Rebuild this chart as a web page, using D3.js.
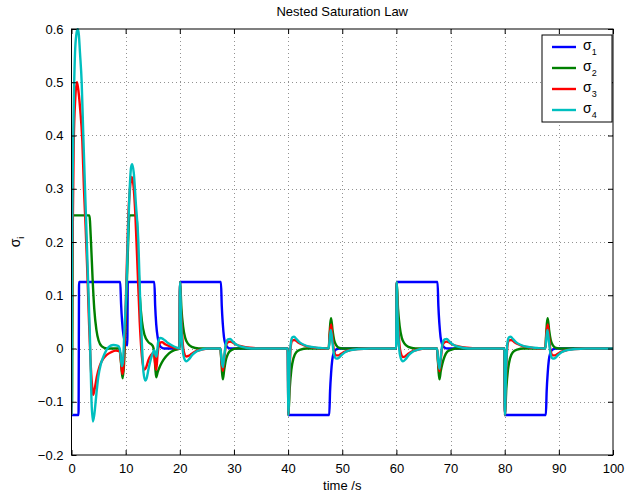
<!DOCTYPE html>
<html>
<head>
<meta charset="utf-8">
<script src="https://cdn.jsdelivr.net/npm/d3@7"></script>
<style>
  html, body { margin: 0; padding: 0; background: #fff; }
  svg { display: block; font-family: "Liberation Sans", Arial, sans-serif; }
</style>
</head>
<body>
<svg id="chart" width="644" height="500"></svg>
<script>
// ---- data (time in s, value) ----
const xTicks = [0, 10, 20, 30, 40, 50, 60, 70, 80, 90, 100];
const yTicks = [-0.2, -0.1, 0, 0.1, 0.2, 0.3, 0.4, 0.5, 0.6];
const seriesNames = ["1", "2", "3", "4"];
const seriesColors = ["#0000ff", "#008000", "#ff0000", "#00bfbf"];

const sigma1 = [
  [0,-0.125],[1.3,-0.125],[1.4,0.125],[9.0,0.125],[9.15,0.085],[9.35,0.05],[9.6,0.025],[9.9,0.012],[10.3,0.006],[10.4,0.125],
  [15.3,0.125],[15.45,0.08],[15.65,0.045],[15.9,0.022],[16.2,0.008],[16.6,0.002],[17.3,0],[19.95,0],[20.05,0.125],
  [27.6,0.125],[27.75,0.08],[27.95,0.045],[28.15,0.022],[28.45,0.008],[28.85,0.002],[29.5,0],[39.95,0],[40.05,-0.125],
  [47.6,-0.125],[47.75,-0.08],[47.95,-0.045],[48.15,-0.022],[48.45,-0.008],[48.85,-0.002],[49.5,0],[59.95,0],[60.05,0.125],
  [67.6,0.125],[67.75,0.08],[67.95,0.045],[68.15,0.022],[68.45,0.008],[68.85,0.002],[69.5,0],[79.95,0],[80.05,-0.125],
  [87.6,-0.125],[87.75,-0.08],[87.95,-0.045],[88.15,-0.022],[88.45,-0.008],[88.85,-0.002],[89.5,0],[100,0]
];

const sigma2 = [
  [0,-0.11],[0.1,-0.1],[0.25,0.25],[3.3,0.25],[3.6,0.2],[3.9,0.13],[4.2,0.075],[4.6,0.035],[5.0,0.015],[5.6,0.004],[6.5,0],
  [8.7,0],[9.0,-0.01],[9.25,-0.04],[9.45,-0.056],[9.7,-0.03],[10.0,0.05],[10.4,0.18],[10.7,0.25],[12.0,0.25],[12.3,0.17],
  [12.6,0.1],[13.0,0.052],[13.5,0.025],[14.2,0.012],[15.0,0.005],[15.3,-0.01],[15.5,-0.04],[15.65,-0.054],[15.9,-0.045],
  [16.4,-0.032],[17.0,-0.021],[18.0,-0.009],[19.0,-0.003],[19.95,0],
  [20.05,0.125],[20.3,0.075],[20.6,0.042],[21.0,0.02],[21.5,0.009],[22.2,0.003],[23.5,0],[27.5,0],[27.65,-0.02],[27.8,-0.045],
  [27.95,-0.058],[28.2,-0.04],[28.5,-0.022],[28.9,-0.01],[29.5,-0.003],[30.5,0],[39.95,0],
  [40.05,-0.125],[40.3,-0.075],[40.6,-0.04],[41.0,-0.018],[41.5,-0.007],[42.3,-0.002],[43.5,0],[47.5,0],[47.65,0.025],[47.8,0.048],
  [47.95,0.057],[48.2,0.035],[48.5,0.016],[48.9,0.006],[49.5,0.001],[50.5,0],[59.95,0],
  [60.05,0.125],[60.3,0.075],[60.6,0.042],[61.0,0.02],[61.5,0.009],[62.2,0.003],[63.5,0],[67.5,0],[67.65,-0.02],[67.8,-0.045],
  [67.95,-0.058],[68.2,-0.042],[68.5,-0.028],[68.9,-0.015],[69.4,-0.006],[70.2,-0.002],[71,0],[79.95,0],
  [80.05,-0.125],[80.3,-0.075],[80.6,-0.04],[81.0,-0.018],[81.5,-0.007],[82.3,-0.002],[83.5,0],[87.5,0],[87.65,0.025],[87.8,0.048],
  [87.95,0.057],[88.2,0.035],[88.5,0.016],[88.9,0.006],[89.5,0.001],[90.5,0],[100,0]
];

const sigma3 = [
  [0,-0.125],[0.15,0.15],[0.4,0.38],[0.7,0.47],[1.0,0.5],[1.2,0.49],[1.6,0.45],[2.0,0.39],[2.3,0.3],[2.6,0.23],[2.9,0.15],
  [3.2,0.06],[3.5,-0.02],[3.8,-0.07],[4.0,-0.087],[4.3,-0.075],[4.7,-0.052],[5.2,-0.033],[5.8,-0.02],[6.5,-0.012],[7.3,-0.007],
  [8.2,-0.004],[8.9,-0.005],[9.15,-0.025],[9.4,-0.048],[9.6,-0.035],[9.9,0.04],[10.2,0.15],[10.5,0.25],[10.8,0.3],[11.1,0.322],
  [11.4,0.31],[11.8,0.25],[12.2,0.15],[12.6,0.05],[13.0,-0.015],[13.4,-0.04],[13.8,-0.035],[14.2,-0.022],[14.7,-0.012],
  [15.2,-0.008],[15.45,-0.028],[15.65,-0.04],[15.9,-0.01],[16.3,0.01],[16.7,0.012],[17.3,0.008],[18.2,0.004],[19.2,0.001],[19.95,0],
  [20.05,0.125],[20.25,0.06],[20.5,0.015],[20.8,-0.008],[21.2,-0.015],[21.6,-0.014],[22.2,-0.01],[23.0,-0.005],[24.0,-0.002],
  [25.5,0],[27.5,0],[27.7,-0.025],[27.95,-0.042],[28.2,-0.02],[28.5,0.005],[28.9,0.012],[29.3,0.013],[29.8,0.011],[30.5,0.007],
  [31.5,0.004],[33,0.0015],[35,0],[39.95,0],
  [40.05,-0.125],[40.25,-0.05],[40.5,0.005],[40.8,0.015],[41.2,0.016],[41.8,0.012],[42.5,0.008],[43.5,0.004],[45,0.0015],[46.5,0],
  [47.5,0],[47.7,0.028],[47.95,0.045],[48.2,0.02],[48.5,-0.006],[48.9,-0.013],[49.3,-0.013],[49.8,-0.01],[50.5,-0.006],[51.5,-0.003],
  [53,-0.001],[55,0],[59.95,0],
  [60.05,0.125],[60.25,0.06],[60.5,0.015],[60.8,-0.008],[61.2,-0.016],[61.6,-0.015],[62.2,-0.01],[63.0,-0.005],[64.0,-0.002],
  [65.5,0],[67.5,0],[67.7,-0.025],[67.95,-0.043],[68.2,-0.02],[68.5,0.005],[68.9,0.012],[69.3,0.013],[69.8,0.011],[70.5,0.007],
  [71.5,0.004],[73,0.0015],[75,0],[79.95,0],
  [80.05,-0.125],[80.25,-0.05],[80.5,0.005],[80.8,0.015],[81.2,0.016],[81.8,0.012],[82.5,0.008],[83.5,0.004],[85,0.0015],[86.5,0],
  [87.5,0],[87.7,0.028],[87.95,0.045],[88.2,0.02],[88.5,-0.006],[88.9,-0.013],[89.3,-0.013],[89.8,-0.01],[90.5,-0.006],[91.5,-0.003],
  [93,-0.001],[95,0],[100,0]
];

const sigma4 = [
  [0,-0.125],[0.15,0.24],[0.33,0.4],[0.65,0.555],[0.9,0.59],[1.14,0.6],[1.35,0.59],[1.57,0.555],[1.88,0.5],[2.18,0.4],[2.5,0.3],
  [2.7,0.24],[3.1,0.116],[3.4,0.022],[3.7,-0.1],[3.95,-0.137],[4.2,-0.125],[4.6,-0.085],[4.95,-0.053],[5.4,-0.03],[5.9,-0.015],
  [6.4,-0.004],[6.9,0.003],[7.7,0.0066],[8.6,0.005],[8.9,0],[9.15,-0.02],[9.3,-0.033],[9.5,-0.025],[9.8,0.04],[10.1,0.1],
  [10.4,0.2],[10.7,0.29],[11.0,0.34],[11.2,0.346],[11.5,0.33],[11.9,0.27],[12.35,0.2],[12.65,0.1],[13.0,0.01],[13.3,-0.045],
  [13.6,-0.06],[13.9,-0.055],[14.2,-0.04],[14.8,-0.015],[15.3,-0.003],[15.5,-0.012],[15.7,-0.015],[16.0,0.012],[16.4,0.02],
  [16.9,0.018],[17.6,0.012],[18.5,0.006],[19.3,0.002],[19.95,0],
  [20.05,0.125],[20.25,0.05],[20.5,0],[20.8,-0.018],[21.2,-0.024],[21.7,-0.02],[22.3,-0.012],[23,-0.006],[24,-0.002],[25,0],
  [27.5,0],[27.7,-0.02],[27.95,-0.035],[28.2,-0.015],[28.5,0.008],[28.9,0.017],[29.3,0.018],[29.8,0.013],[30.5,0.007],[31.5,0.003],
  [32.5,0.001],[34,0],[39.95,0],
  [40.05,-0.125],[40.25,-0.04],[40.5,0.01],[40.8,0.021],[41.1,0.022],[41.6,0.017],[42.2,0.011],[42.8,0.0075],[43.7,0.004],
  [44.6,0.0025],[46,0.001],[47.5,0],[47.7,0.02],[47.9,0.035],[48.2,0.01],[48.5,-0.012],[48.9,-0.019],[49.3,-0.018],[49.8,-0.013],
  [50.5,-0.007],[51.5,-0.003],[53,-0.001],[55,0],[59.95,0],
  [60.05,0.125],[60.25,0.05],[60.5,0],[60.8,-0.018],[61.2,-0.024],[61.7,-0.02],[62.3,-0.012],[63,-0.006],[64,-0.002],[65,0],
  [67.5,0],[67.7,-0.022],[67.95,-0.038],[68.2,-0.015],[68.5,0.008],[68.9,0.017],[69.3,0.018],[69.8,0.013],[70.5,0.007],[71.5,0.003],
  [72.5,0.001],[74,0],[79.95,0],
  [80.05,-0.125],[80.25,-0.04],[80.5,0.01],[80.8,0.021],[81.1,0.022],[81.6,0.017],[82.2,0.011],[82.8,0.0075],[83.7,0.004],
  [84.6,0.0025],[86,0.001],[87.5,0],[87.7,0.02],[87.9,0.035],[88.2,0.01],[88.5,-0.012],[88.9,-0.019],[89.3,-0.018],[89.8,-0.013],
  [90.5,-0.007],[91.5,-0.003],[93,-0.001],[95,0],[100,0]
];

const allSeries = [sigma1, sigma2, sigma3, sigma4];

// ---- layout ----
const svg = d3.select("#chart");
const L = 71.5, R = 613, T = 29, B = 455;
const x = d3.scaleLinear().domain([0, 100]).range([L, R]);
const y = d3.scaleLinear().domain([-0.2, 0.6]).range([B, T]);
const fmtY = d => d === 0 ? "0" : d3.format(".1f")(d).replace("-", "\u2212");

svg.append("rect").attr("x", 0).attr("y", 0).attr("width", 644).attr("height", 500).attr("fill", "#fff");
svg.append("rect").attr("x", L).attr("y", T).attr("width", R - L).attr("height", B - T).attr("fill", "#fff");

// grid
const grid = svg.append("g").attr("stroke", "#777").attr("stroke-width", 0.8).attr("stroke-dasharray", "1,3").attr("shape-rendering", "crispEdges");
xTicks.slice(1, -1).forEach(t => grid.append("line").attr("x1", Math.round(x(t)) + 0.5).attr("x2", Math.round(x(t)) + 0.5).attr("y1", T).attr("y2", B));
yTicks.slice(1, -1).forEach(t => grid.append("line").attr("y1", Math.round(y(t)) + 0.5).attr("y2", Math.round(y(t)) + 0.5).attr("x1", L).attr("x2", R));

// lines
svg.append("clipPath").attr("id", "clip").append("rect").attr("x", L).attr("y", T - 1).attr("width", R - L).attr("height", B - T + 1);
const line = d3.line().x(d => x(d[0])).y(d => y(d[1])).curve(d3.curveMonotoneX);
const plot = svg.append("g").attr("clip-path", "url(#clip)");
allSeries.forEach((s, i) => {
  plot.append("path").datum(s).attr("d", line).attr("fill", "none")
    .attr("stroke", seriesColors[i]).attr("stroke-width", 2.4).attr("stroke-linejoin", "round");
});

// axes (MATLAB style: inward ticks on all sides)
const axBottom = d3.axisBottom(x).tickValues(xTicks).tickSizeInner(-5).tickSizeOuter(0).tickPadding(9);
const axTop = d3.axisTop(x).tickValues(xTicks).tickSizeInner(-5).tickSizeOuter(0).tickFormat("");
const axLeft = d3.axisLeft(y).tickValues(yTicks).tickSizeInner(-5).tickSizeOuter(0).tickPadding(8).tickFormat(fmtY);
const axRight = d3.axisRight(y).tickValues(yTicks).tickSizeInner(-5).tickSizeOuter(0).tickFormat("");
const styleAx = g => {
  g.select(".domain").remove();
  g.selectAll("line").attr("stroke", "#000");
  g.selectAll("text").attr("font-size", 13).attr("fill", "#000").attr("font-family", "Liberation Sans, Arial, sans-serif");
};
svg.append("g").attr("transform", `translate(0,${B})`).call(axBottom).call(styleAx);
svg.append("g").attr("transform", `translate(0,${T})`).call(axTop).call(styleAx);
svg.append("g").attr("transform", `translate(${L},0)`).call(axLeft).call(styleAx);
svg.append("g").attr("transform", `translate(${R},0)`).call(axRight).call(styleAx);
svg.append("rect").attr("x", L).attr("y", T).attr("width", R - L).attr("height", B - T)
  .attr("fill", "none").attr("stroke", "#000").attr("stroke-width", 1);

// title & labels
svg.append("text").attr("x", (L + R) / 2).attr("y", 16).attr("text-anchor", "middle")
  .attr("font-size", 13).text("Nested Saturation Law");
svg.append("text").attr("x", (L + R) / 2).attr("y", 490).attr("text-anchor", "middle")
  .attr("font-size", 13).text("time /s");
const yl = svg.append("text").attr("transform", `translate(20,${(T + B) / 2}) rotate(-90)`).attr("text-anchor", "middle").attr("font-size", 14);
yl.append("tspan").text("σ");
yl.append("tspan").attr("font-size", 9).attr("dy", 4).text("i");

// legend
const lg = svg.append("g");
lg.append("rect").attr("x", 542).attr("y", 35).attr("width", 70).attr("height", 87)
  .attr("fill", "#fff").attr("stroke", "#000").attr("stroke-width", 1);
seriesNames.forEach((n, i) => {
  const yy = 47 + i * 21;
  lg.append("line").attr("x1", 552).attr("x2", 576).attr("y1", yy).attr("y2", yy)
    .attr("stroke", seriesColors[i]).attr("stroke-width", 2.4);
  const t = lg.append("text").attr("x", 583).attr("y", yy + 3).attr("font-size", 14);
  t.append("tspan").text("σ");
  t.append("tspan").attr("font-size", 9).attr("dy", 5).text(n);
});
</script>
</body>
</html>
